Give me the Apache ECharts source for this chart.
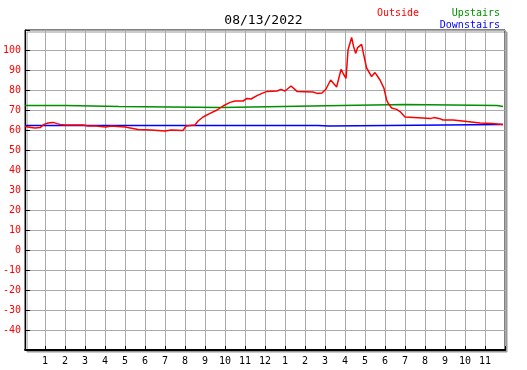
<!DOCTYPE html>
<html>
<head>
<meta charset="utf-8">
<script src="https://cdn.jsdelivr.net/npm/echarts@6/dist/echarts.min.js"></script>
<style>
  html, body { margin: 0; padding: 0; background: #fff; }
  #chart { width: 527px; height: 370px; }
</style>
</head>
<body>
<div id="chart"></div>
<script>
// hours since midnight, temps in F
const outsideHours = [0, 0.3, 0.5, 0.75, 0.95, 1.15, 1.4, 1.6, 1.75, 2.0, 2.1, 2.3, 2.9, 3.15, 3.55, 3.65, 4.05, 4.15, 4.3, 4.4, 5.0, 5.05, 5.65, 5.75, 6.3, 6.4, 7.0, 7.1, 7.3, 7.4, 7.9, 8.05, 8.5, 8.65, 8.9, 9.25, 9.6, 9.9, 10.25, 10.5, 10.9, 11.1, 11.3, 11.6, 11.85, 12.1, 12.6, 12.8, 13.0, 13.3, 13.6, 14.4, 14.6, 14.85, 15.05, 15.28, 15.58, 15.8, 15.92, 16.05, 16.15, 16.33, 16.43, 16.53, 16.63, 16.73, 16.83, 16.92, 17.08, 17.33, 17.5, 17.75, 17.95, 18.08, 18.15, 18.33, 18.58, 18.75, 19.0, 19.1, 20.3, 20.45, 20.7, 20.9, 21.4, 21.5, 22.1, 22.2, 22.75, 23.35, 23.45, 23.9];
const outsideTemps = [61.7, 61.3, 61, 61.2, 62.8, 63.5, 63.8, 63.2, 62.8, 62.5, 62, 62.5, 62.5, 62, 62, 61.5, 61.5, 62, 62, 61.5, 61.5, 60.5, 60.3, 60, 60, 59.5, 59.5, 60, 60, 59.7, 59.8, 62, 62.5, 64.5, 66.5, 68.3, 70, 72, 73.8, 74.5, 74.5, 75.8, 75.5, 77.2, 78.3, 79.3, 79.5, 80.3, 79.5, 82, 79.3, 79, 78.3, 78.5, 80.5, 85, 81.5, 90.3, 88, 85.8, 100, 106.3, 101.7, 98.3, 101.2, 100.3, 102.8, 98.3, 91, 86.7, 88.7, 85, 80.8, 75, 73.5, 71, 70.3, 69.2, 66.5, 65.8, 65.8, 66.2, 65.8, 65, 65, 64.3, 64.2, 64, 63.5, 63.2, 62.7, 62.7];

const upstairsHours = [0, 2.05, 2.1, 4.7, 4.75, 9.8, 9.85, 12.9, 12.95, 15.8, 15.85, 19.0, 19.05, 23.6, 23.65, 23.9];
const upstairsTemps = [72.3, 72.3, 71.8, 71.8, 71.3, 71.3, 71.8, 71.8, 72.2, 72.2, 72.7, 72.7, 72.3, 72.3, 71.8, 71.8];

const downstairsHours = [0, 14.65, 14.7, 15.2, 15.3, 23.9];
const downstairsTemps = [62.3, 62.3, 62.0, 62.0, 62.8, 62.8];

const pairs = (xs, ys) => xs.map((x, i) => [x, ys[i]]);

const mono = 'DejaVu Sans Mono';
const chart = echarts.init(document.getElementById('chart'));

chart.setOption({
  animation: false,
  backgroundColor: '#fff',
  title: [
    { text: '08/13/2022', left: 'center', top: 9,
      textStyle: { fontFamily: mono, fontSize: 13, fontWeight: 'normal', color: '#000' } },
    { text: 'Outside', left: 372, top: 3,
      textStyle: { fontFamily: mono, fontSize: 10, fontWeight: 'normal', color: '#ff0000' } },
    { text: 'Upstairs', right: 22, top: 3,
      textStyle: { fontFamily: mono, fontSize: 10, fontWeight: 'normal', color: '#009000' } },
    { text: 'Downstairs', right: 22, top: 15,
      textStyle: { fontFamily: mono, fontSize: 10, fontWeight: 'normal', color: '#0000ff' } }
  ],
  grid: {
    left: 25, top: 30, right: 22, bottom: 20,
    show: true,
    backgroundColor: '#fff',
    borderColor: '#000',
    borderWidth: 1,
    shadowColor: '#999',
    shadowBlur: 0,
    shadowOffsetX: 2,
    shadowOffsetY: 2
  },
  xAxis: {
    type: 'value',
    min: 0, max: 24, interval: 1,
    axisLine: { onZero: false, lineStyle: { color: '#000', width: 2 } },
    axisTick: { inside: true, length: 4, lineStyle: { color: '#000' } },
    splitLine: { lineStyle: { color: '#aaa', width: 1 } },
    axisLabel: {
      fontFamily: mono, fontSize: 10, color: '#000', margin: 6,
      formatter: v => (v === 0 || v === 24) ? '' : String(v % 12 === 0 ? 12 : v % 12)
    }
  },
  yAxis: {
    type: 'value',
    min: -50, max: 110, interval: 10,
    axisLine: { show: true, onZero: false, lineStyle: { color: '#000', width: 1 } },
    axisTick: { inside: true, length: 5, lineStyle: { color: '#000' } },
    splitLine: { lineStyle: { color: '#aaa', width: 1 } },
    axisLabel: {
      fontFamily: mono, fontSize: 10, color: '#ff0000', margin: 4,
      formatter: v => (v === -50 || v === 110) ? '' : String(v)
    }
  },
  series: [
    { name: 'Upstairs', type: 'line', data: pairs(upstairsHours, upstairsTemps),
      showSymbol: false, lineStyle: { color: '#009000', width: 1.5 } },
    { name: 'Downstairs', type: 'line', data: pairs(downstairsHours, downstairsTemps),
      showSymbol: false, lineStyle: { color: '#0000ff', width: 1.5 } },
    { name: 'Outside', type: 'line', data: pairs(outsideHours, outsideTemps),
      showSymbol: false, lineStyle: { color: '#ff0000', width: 1.5 } }
  ]
});
</script>
</body>
</html>
